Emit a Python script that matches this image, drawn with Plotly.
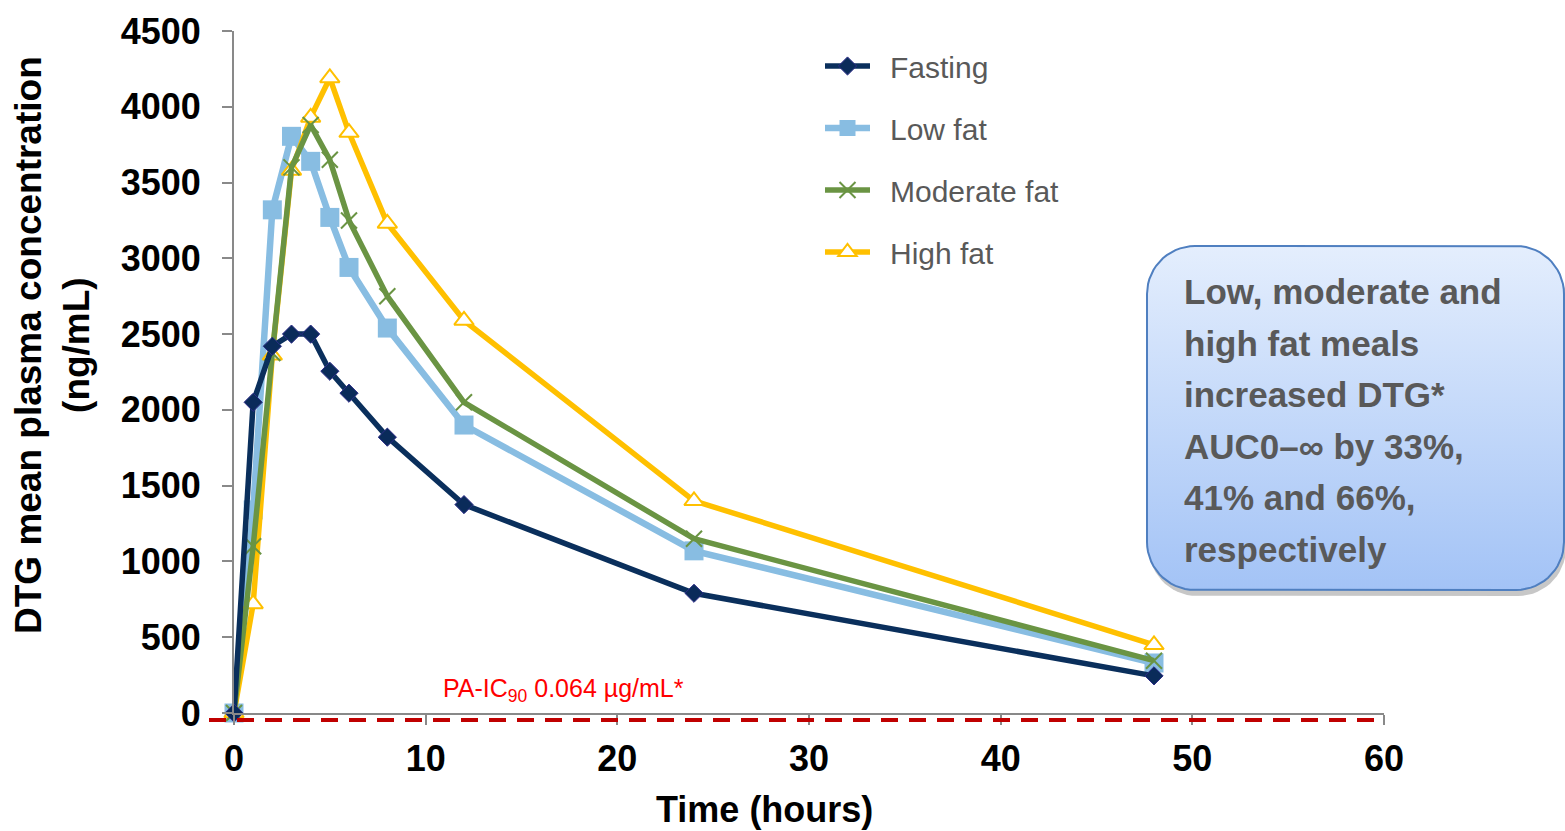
import numpy as np
import plotly.graph_objects as go

W, H = 1565, 831

# ---------------- data ----------------
time_h = [0, 1, 2, 3, 4, 5, 6, 8, 12, 24, 48]
fasting = [0, 2050, 2420, 2500, 2500, 2255, 2110, 1820, 1375, 790, 245]
low_fat = [0, 1340, 3320, 3805, 3640, 3270, 2940, 2540, 1900, 1070, 330]
moderate_fat = [0, 1100, 2375, 3600, 3880, 3650, 3250, 2750, 2050, 1150, 345]
high_fat = [0, 720, 2360, 3580, 3930, 4190, 3830, 3230, 2590, 1400, 450]
series_names = ["Fasting", "Low fat", "Moderate fat", "High fat"]

x_ticks = [0, 10, 20, 30, 40, 50, 60]
y_ticks = [0, 500, 1000, 1500, 2000, 2500, 3000, 3500, 4000, 4500]

x_title = "Time (hours)"
y_title = "DTG mean plasma concentration<br>(ng/mL)"
ic90_label = "PA-IC<sub>90</sub> 0.064 µg/mL*"
box_lines = ["Low, moderate and", "high fat meals", "increased DTG*",
             "AUC0\u2013\u221e by 33%,", "41% and 66%,", "respectively"]

# ---------------- style ----------------
FONT = "Liberation Sans, Arial, sans-serif"
AX = "#898989"

def px(x):
    return x / W

def py(y):
    return 1 - y / H

styles = {
    "Fasting": dict(line=dict(color="#0a2f5c", width=5.5),
                    marker=dict(symbol="diamond", size=14, color="#0a2b5a",
                                line=dict(color="#2c2c88", width=1))),
    "Low fat": dict(line=dict(color="#88bde2", width=6.5),
                    marker=dict(symbol="square", size=19, color="#88bde2",
                                line=dict(width=0))),
    "Moderate fat": dict(line=dict(color="#6a9443", width=5.5),
                         marker=dict(symbol="x-thin", size=16, color="#6a9443",
                                     line=dict(color="#6a9443", width=2))),
    "High fat": dict(line=dict(color="#ffc000", width=5.5),
                     marker=dict(symbol="triangle-up", size=17, color="white",
                                 line=dict(color="#ffc000", width=2))),
}
series_vals = {"Fasting": fasting, "Low fat": low_fat,
               "Moderate fat": moderate_fat, "High fat": high_fat}
draw_order = ["Low fat", "High fat", "Moderate fat", "Fasting"]

fig = go.Figure()

# ---- callout box (pixel-space overlay axes) ----
def rounded_rect(x0, y0, x1, y1, r, n=16):
    t = np.linspace(0, np.pi / 2, n)
    xs, ys = [], []
    cx, cy = x0 + r, y0 + r
    xs += list(cx - r * np.cos(t)); ys += list(cy - r * np.sin(t))
    cx, cy = x1 - r, y0 + r
    xs += list(cx + r * np.sin(t)); ys += list(cy - r * np.cos(t))
    cx, cy = x1 - r, y1 - r
    xs += list(cx + r * np.cos(t)); ys += list(cy + r * np.sin(t))
    cx, cy = x0 + r, y1 - r
    xs += list(cx - r * np.sin(t)); ys += list(cy + r * np.cos(t))
    xs.append(xs[0]); ys.append(ys[0])
    return xs, ys

bx0, by0, bx1, by1, br = 1147, 246, 1564, 590, 48
sx, sy = rounded_rect(bx0 + 2, by0 + 5, bx1 + 2, by1 + 6, br)
fig.add_trace(go.Scatter(x=sx, y=sy, xaxis="x2", yaxis="y2", mode="lines",
                         fill="toself", fillcolor="rgba(70,70,70,0.3)",
                         line=dict(width=0), hoverinfo="skip", showlegend=False))
rx, ry = rounded_rect(bx0, by0, bx1, by1, br)
fig.add_trace(go.Scatter(x=rx, y=ry, xaxis="x2", yaxis="y2", mode="lines",
                         fill="toself",
                         fillgradient=dict(type="vertical",
                                           colorscale=[[0, "#a3c3f6"], [1, "#e4eefd"]]),
                         line=dict(color="#4f7fc0", width=2),
                         hoverinfo="skip", showlegend=False))

# ---- data series ----
for name in draw_order:
    st = styles[name]
    fig.add_trace(go.Scatter(
        x=time_h, y=series_vals[name], name="\u2002" + name,
        mode="lines+markers",
        line=st["line"], marker=st["marker"], cliponaxis=False,
        legendgroup=name, legendrank=series_names.index(name) + 1))

# ---- reference line (PA-IC90) ----
fig.add_shape(type="line", xref="paper", yref="paper",
              x0=px(209), x1=px(1382), y0=py(720), y1=py(720),
              line=dict(color="#c00000", width=4, dash="17px,11px"), layer="above")

annotations = [
    dict(x=px(52), y=py(345), text=y_title, textangle=-90, showarrow=False,
         xref="paper", yref="paper", xanchor="center", yanchor="middle",
         font=dict(family=FONT, size=37, color="black", weight="bold")),
    dict(x=px(764), y=py(809), text=x_title, showarrow=False,
         xref="paper", yref="paper", xanchor="center", yanchor="middle",
         font=dict(family=FONT, size=36, color="black", weight="bold")),
    dict(x=px(441), y=py(690), text=ic90_label, showarrow=False,
         xref="paper", yref="paper", xanchor="left", yanchor="middle",
         font=dict(family=FONT, size=25, color="#ff0000")),
]
for i, line in enumerate(box_lines):
    annotations.append(dict(
        x=px(1182), y=py(292 + 51.4 * i), text=line, showarrow=False,
        xref="paper", yref="paper", xanchor="left", yanchor="middle",
        font=dict(family=FONT, size=35, color="#595959", weight="bold")))

axis_common = dict(showline=True, linecolor=AX, linewidth=2, ticks="outside",
                   ticklen=10, tickwidth=2, tickcolor=AX, showgrid=False,
                   zeroline=False, automargin=False,
                   tickfont=dict(family=FONT, size=36, color="black", weight="bold"))

fig.update_layout(
    width=W, height=H,
    margin=dict(l=0, r=0, t=0, b=0, autoexpand=False),
    paper_bgcolor="white", plot_bgcolor="rgba(0,0,0,0)",
    xaxis=dict(domain=[px(234), px(1384)], range=[0, 60], tickvals=x_ticks,
               ticklabelstandoff=3, anchor="y", **axis_common),
    yaxis=dict(domain=[py(713), py(31)], range=[0, 4500], tickvals=y_ticks,
               ticklabelstandoff=14, anchor="x", **axis_common),
    xaxis2=dict(domain=[0, 1], range=[0, W], visible=False, anchor="y2",
                fixedrange=True),
    yaxis2=dict(domain=[0, 1], range=[H, 0], visible=False, anchor="x2",
                fixedrange=True),
    legend=dict(x=px(820), y=py(40), xanchor="left", yanchor="top",
                bgcolor="rgba(0,0,0,0)", tracegroupgap=20, itemwidth=45,
                font=dict(family=FONT, size=30, color="#595959")),
    annotations=annotations,
    showlegend=True,
)

fig.write_html("out.html")
